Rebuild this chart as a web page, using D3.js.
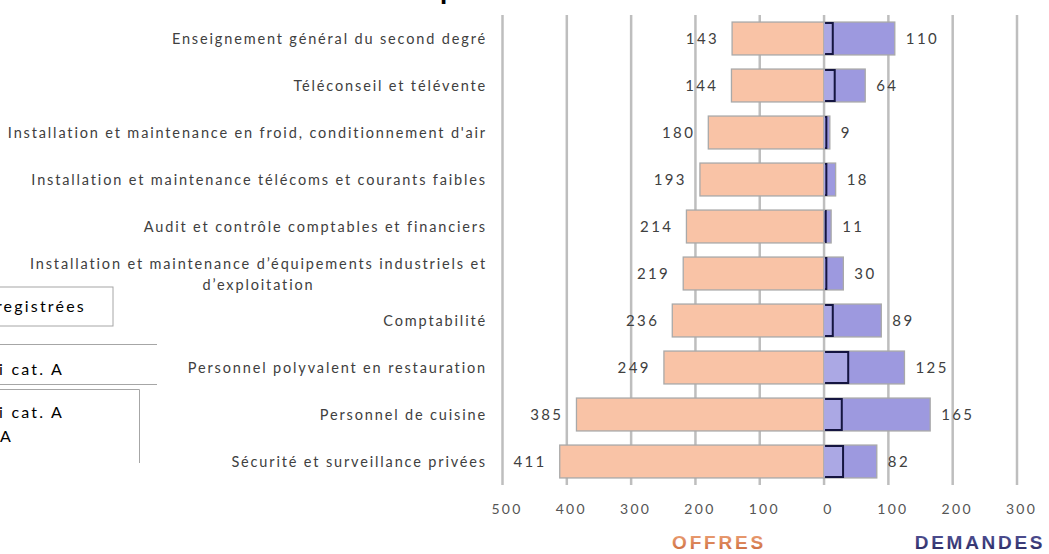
<!DOCTYPE html>
<html>
<head>
<meta charset="utf-8">
<script src="https://cdn.jsdelivr.net/npm/d3@7"></script>
<style>
  body { margin: 0; background: #fff; overflow: hidden; }
  svg { display: block; }
</style>
</head>
<body>
<svg id="chart" width="1049" height="554"></svg>
<script>
// Top 10 job categories: job offers (left) vs job seekers (right)
const categories = [
  "Enseignement général du second degré",
  "Téléconseil et télévente",
  "Installation et maintenance en froid, conditionnement d'air",
  "Installation et maintenance télécoms et courants faibles",
  "Audit et contrôle comptables et financiers",
  "Installation et maintenance d’équipements industriels et\nd’exploitation",
  "Comptabilité",
  "Personnel polyvalent en restauration",
  "Personnel de cuisine",
  "Sécurité et surveillance privées"
];
const offres = [143, 144, 180, 193, 214, 219, 236, 249, 385, 411];
const demandes = [110, 64, 9, 18, 11, 30, 89, 125, 165, 82];
const demandesDont = [12, 15, 2, 2, 1, 2, 12, 36, 26, 28];
const tickValues = [-500, -400, -300, -200, -100, 0, 100, 200, 300];
const sideTitles = ["OFFRES", "DEMANDES"];
const legendLabels = ["Offres enregistrées", "Demandes d'emploi cat. A", "Demandes d'emploi cat. A\ndont DELD cat. A"];
const titleText = "Top 10";

const svg = d3.select("#chart");
const font = "Lato, 'Open Sans', sans-serif";

const x = d3.scaleLinear().domain([-500, 300]).range([502.5, 1017]);
const y = d3.scaleBand().domain(categories).range([15, 485]).paddingInner(0.3).paddingOuter(0.15);

// gradients for the side titles
const defs = svg.append("defs");
const g1 = defs.append("linearGradient").attr("id", "gOff").attr("x1", 0).attr("y1", 0).attr("x2", 0).attr("y2", 1);
g1.append("stop").attr("offset", "0%").attr("stop-color", "#EFA57A");
g1.append("stop").attr("offset", "100%").attr("stop-color", "#C8673A");
const g2 = defs.append("linearGradient").attr("id", "gDem").attr("x1", 0).attr("y1", 0).attr("x2", 0).attr("y2", 1);
g2.append("stop").attr("offset", "0%").attr("stop-color", "#56569A");
g2.append("stop").attr("offset", "100%").attr("stop-color", "#26265E");

// title (sits above the top edge, only its descender shows)
svg.append("text")
  .attr("x", 492).attr("y", -1)
  .attr("text-anchor", "end")
  .attr("font-family", "Arial, 'Liberation Sans', sans-serif")
  .attr("font-weight", "bold").attr("font-size", 26)
  .attr("fill", "#000")
  .text(titleText);

// vertical gridlines
svg.append("g").selectAll("line")
  .data(tickValues)
  .join("line")
  .attr("x1", d => x(d)).attr("x2", d => x(d))
  .attr("y1", 15).attr("y2", 485)
  .attr("stroke", "#BEBEBE").attr("stroke-width", 2.5);

// x axis tick labels
const axis = svg.append("g")
  .attr("transform", "translate(0,501)")
  .call(d3.axisBottom(x).tickValues(tickValues).tickFormat(d => Math.abs(d)).tickSize(0));
axis.select(".domain").remove();
axis.selectAll("text")
  .attr("dx", 4)
  .attr("font-family", font).attr("font-size", 14)
  .attr("letter-spacing", 2.3)
  .attr("fill", "#555");

const rows = categories.map((c, i) => ({ c, o: offres[i], d: demandes[i], s: demandesDont[i] }));

// offers bars (to the left)
svg.append("g").selectAll("rect")
  .data(rows)
  .join("rect")
  .attr("x", d => x(-d.o)).attr("y", d => y(d.c))
  .attr("width", d => x(0) - x(-d.o)).attr("height", y.bandwidth())
  .attr("fill", "#F9C3A6").attr("stroke", "#A9A9A9").attr("stroke-width", 1.3);

// demand bars (to the right)
svg.append("g").selectAll("rect")
  .data(rows)
  .join("rect")
  .attr("x", x(0)).attr("y", d => y(d.c))
  .attr("width", d => x(d.d) - x(0)).attr("height", y.bandwidth())
  .attr("fill", "#9D99DF").attr("stroke", "#A9A9A9").attr("stroke-width", 1.3);

// inner subset bars
const inner = svg.append("g");
inner.selectAll("rect")
  .data(rows)
  .join("rect")
  .attr("x", x(0)).attr("y", d => y(d.c) + 1)
  .attr("width", d => x(d.s) - x(0)).attr("height", y.bandwidth() - 2)
  .attr("fill", "#ABA8E4");
inner.selectAll("path")
  .data(rows)
  .join("path")
  .attr("d", d => {
    const x0 = x(0) + 1, x1 = x(d.s) + 1, y0 = y(d.c) + 1, y1 = y(d.c) + y.bandwidth() - 1;
    return `M${x0},${y0}H${x1}V${y1}H${x0}`;
  })
  .attr("fill", "none").attr("stroke", "#151540").attr("stroke-width", 2);

// value labels
svg.append("g").selectAll("text")
  .data(rows)
  .join("text")
  .attr("x", d => x(-d.o) - 13).attr("y", d => y(d.c) + y.bandwidth() / 2)
  .attr("dy", "0.35em").attr("text-anchor", "end")
  .attr("font-family", font).attr("font-size", 15).attr("letter-spacing", 2.4)
  .attr("fill", "#404040")
  .text(d => d.o);
svg.append("g").selectAll("text")
  .data(rows)
  .join("text")
  .attr("x", d => x(d.d) + 11).attr("y", d => y(d.c) + y.bandwidth() / 2)
  .attr("dy", "0.35em").attr("text-anchor", "start")
  .attr("font-family", font).attr("font-size", 15).attr("letter-spacing", 2.4)
  .attr("fill", "#404040")
  .text(d => d.d);

// category labels
const catG = svg.append("g");
rows.forEach(r => {
  const lines = r.c.split("\n");
  const cy = y(r.c) + y.bandwidth() / 2;
  const t = catG.append("text")
    .attr("font-family", font).attr("font-size", 14.5).attr("letter-spacing", 1.85)
    .attr("fill", "#404040");
  if (lines.length === 1) {
    t.attr("x", 487).attr("y", cy).attr("dy", "0.35em").attr("text-anchor", "end").text(lines[0]);
  } else {
    t.attr("text-anchor", "middle");
    const first = t.append("tspan").attr("y", cy - 10).attr("dy", "0.35em").text(lines[0]);
    const w = first.node().getComputedTextLength();
    const cx = 487 - w / 2;
    first.attr("x", cx);
    t.append("tspan").attr("x", cx).attr("y", cy + 11).attr("dy", "0.35em").text(lines[1]);
  }
});

// side titles
svg.append("text")
  .attr("x", 719).attr("y", 549).attr("text-anchor", "middle")
  .attr("font-family", "Arial, 'Liberation Sans', sans-serif").attr("font-weight", "bold")
  .attr("font-size", 19).attr("letter-spacing", 2.8)
  .attr("fill", "url(#gOff)")
  .text(sideTitles[0]);
svg.append("text")
  .attr("x", 980).attr("y", 549).attr("text-anchor", "middle")
  .attr("font-family", "Arial, 'Liberation Sans', sans-serif").attr("font-weight", "bold")
  .attr("font-size", 19).attr("letter-spacing", 2.7)
  .attr("fill", "url(#gDem)")
  .text(sideTitles[1]);

// legend (partly beyond the left edge)
const leg = svg.append("g").attr("font-family", font).attr("font-size", 16).attr("fill", "#000")
  .attr("letter-spacing", 2.2);
leg.append("rect").attr("x", -10).attr("y", 287).attr("width", 123).attr("height", 39)
  .attr("fill", "none").attr("stroke", "#A6A6A6");
leg.append("text").attr("x", 86).attr("y", 312).attr("text-anchor", "end").text(legendLabels[0]);
leg.append("line").attr("x1", 0).attr("x2", 157).attr("y1", 344.5).attr("y2", 344.5).attr("stroke", "#A6A6A6");
leg.append("line").attr("x1", 0).attr("x2", 157).attr("y1", 384.5).attr("y2", 384.5).attr("stroke", "#A6A6A6");
leg.append("text").attr("x", 64).attr("y", 375).attr("text-anchor", "end").text(legendLabels[1]);
leg.append("path").attr("d", "M0,389.5H139.5V463").attr("fill", "none").attr("stroke", "#A6A6A6");
const l3 = legendLabels[2].split("\n");
leg.append("text").attr("x", 64).attr("y", 418).attr("text-anchor", "end").text(l3[0]);
leg.append("text").attr("x", 13).attr("y", 442).attr("text-anchor", "end").text(l3[1]);
</script>
</body>
</html>
